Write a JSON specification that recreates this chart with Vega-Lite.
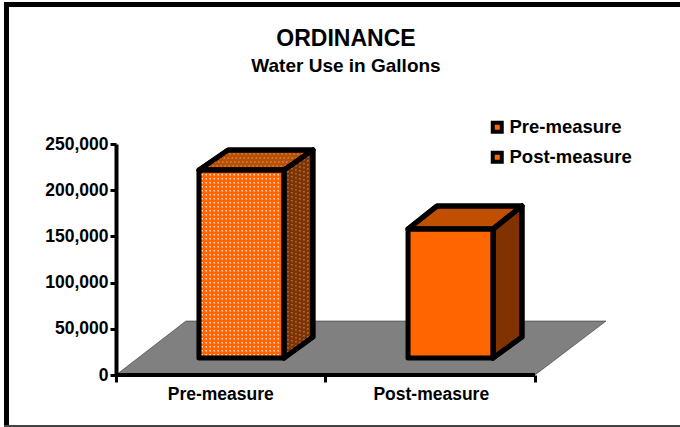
{
"$schema":"https://vega.github.io/schema/vega-lite/v6.json",
"width":490,"height":231,
"autosize":{"type":"none"},
"padding":{"left":116,"top":144,"right":74,"bottom":52},
"background":"white",
"view":{"stroke":null},
"config":{"font":"Liberation Sans","view":{"stroke":null}},
"title":{"text":"ORDINANCE","subtitle":"Water Use in Gallons","anchor":"middle","frame":"group","dx":-15,"offset":-76,"font":"Liberation Sans","fontSize":23,"fontWeight":"bold","color":"black","subtitleFont":"Liberation Sans","subtitleFontSize":19,"subtitleFontWeight":"bold","subtitleColor":"black","subtitlePadding":6},
"datasets":{
"floor":[{"x":0,"y":0,"y2":0},{"x":0.334,"y":58400,"y2":0},{"x":2,"y":58400,"y2":0},{"x":2.339,"y":58400,"y2":58400}],
"faces":[
{"face":"Pre top","x":0.396,"y":221900,"y2":221900},{"face":"Pre top","x":0.535,"y":243500,"y2":221900},{"face":"Pre top","x":0.802,"y":243500,"y2":221900},{"face":"Pre top","x":0.940,"y":243500,"y2":243500},
{"face":"Pre side","x":0.802,"y":221900,"y2":18400},{"face":"Pre side","x":0.940,"y":243500,"y2":41100},
{"face":"Post top","x":1.394,"y":158000,"y2":158000},{"face":"Post top","x":1.532,"y":182900,"y2":158000},{"face":"Post top","x":1.800,"y":182900,"y2":158000},{"face":"Post top","x":1.938,"y":182900,"y2":182900},
{"face":"Post side","x":1.800,"y":158000,"y2":18400},{"face":"Post side","x":1.938,"y":182900,"y2":41100}],
"bars":[{"series":"Pre-measure","x":0.396,"x2":0.802,"top":221900,"base":18400},{"series":"Post-measure","x":1.394,"x2":1.800,"top":158000,"base":18400}],
"sideDots":[{"x":0.821,"y":225100,"y2":21650},{"x":0.840,"y":228400,"y2":24900},{"x":0.859,"y":231600,"y2":28100},{"x":0.878,"y":234800,"y2":31400},{"x":0.897,"y":238100,"y2":34600},{"x":0.916,"y":241300,"y2":37900}],
"topDots":[{"x":0.502,"x2":0.907,"y":239200},{"x":0.475,"x2":0.881,"y":234800},{"x":0.449,"x2":0.854,"y":230500},{"x":0.422,"x2":0.828,"y":226200}],
"labels":[{"x":0.5,"y":-21500,"label":"Pre-measure"},{"x":1.505,"y":-21500,"label":"Post-measure"}],
"frameThick":[{"x":-0.5227,"x2":-0.5227,"y":403100,"y2":-56000},{"x":-0.5347,"x2":2.7085,"y":400970,"y2":400970}],
"frameThin":[{"x":-0.5347,"x2":2.7085,"y":-55200,"y2":-55200}]
},
"layer":[
{"data":{"name":"frameThick"},"mark":{"type":"rule","color":"black","strokeWidth":5},
 "encoding":{"x":{"field":"x","type":"quantitative","scale":{"domain":[0,2.339],"nice":false,"zero":false},"axis":{"values":[0,1,2],"labels":false,"title":null,"grid":false,"domain":false,"tickColor":"black","tickWidth":3,"tickSize":7}},
 "x2":{"field":"x2"},
 "y":{"field":"y","type":"quantitative","scale":{"domain":[0,250000],"nice":false},"axis":{"values":[0,50000,100000,150000,200000,250000],"format":",d","title":null,"grid":false,"domain":true,"domainColor":"black","domainWidth":4,"tickColor":"black","tickWidth":3,"tickSize":6,"labelPadding":2,"labelFont":"Liberation Sans","labelFontSize":17.5,"labelFontWeight":"bold","labelColor":"black"}},
 "y2":{"field":"y2"}}},
{"data":{"name":"frameThin"},"mark":{"type":"rule","color":"#444444","strokeWidth":2},
 "encoding":{"x":{"field":"x","type":"quantitative"},"x2":{"field":"x2"},"y":{"field":"y","type":"quantitative"},"y2":{"field":"y2"}}},
{"data":{"name":"floor"},"mark":{"type":"area","color":"#808080","stroke":"#333333","strokeWidth":0.6},
 "encoding":{"x":{"field":"x","type":"quantitative"},"y":{"field":"y","type":"quantitative"},"y2":{"field":"y2"}}},
{"data":{"values":[{"x":0,"x2":2,"y":0}]},"mark":{"type":"rule","color":"black","strokeWidth":4},
 "encoding":{"x":{"field":"x","type":"quantitative"},"x2":{"field":"x2"},"y":{"field":"y","type":"quantitative"}}},
{"data":{"name":"faces"},"mark":{"type":"area","stroke":"black","strokeWidth":5,"strokeJoin":"round"},
 "encoding":{"x":{"field":"x","type":"quantitative"},"y":{"field":"y","type":"quantitative"},"y2":{"field":"y2"},"detail":{"field":"face"},
 "fill":{"field":"face","type":"nominal","legend":null,"scale":{"domain":["Pre top","Pre side","Post top","Post side"],"range":["#b85000","#7f3300","#c05000","#803300"]}}}},
{"data":{"name":"sideDots"},"mark":{"type":"rule","color":"white","opacity":0.3,"strokeWidth":1.6,"strokeDash":[1.6,2.4]},
 "encoding":{"x":{"field":"x","type":"quantitative"},"y":{"field":"y","type":"quantitative"},"y2":{"field":"y2"}}},
{"data":{"name":"topDots"},"mark":{"type":"rule","color":"white","opacity":0.3,"strokeWidth":1.6,"strokeDash":[1.6,2.4]},
 "encoding":{"x":{"field":"x","type":"quantitative"},"x2":{"field":"x2"},"y":{"field":"y","type":"quantitative"}}},
{"data":{"name":"bars"},"mark":{"type":"rect"},
 "encoding":{"x":{"field":"x","type":"quantitative"},"x2":{"field":"x2"},"y":{"field":"top","type":"quantitative"},"y2":{"field":"base"},
 "color":{"field":"series","type":"nominal","scale":{"domain":["Pre-measure","Post-measure"],"range":["#ff6600","#ff6600"]},
 "legend":{"title":null,"orient":"none","legendX":372,"legendY":-26,"symbolType":"square","symbolSize":81,"symbolStrokeColor":"black","symbolStrokeWidth":4,"labelFont":"Liberation Sans","labelFontSize":18.5,"labelFontWeight":"bold","labelColor":"black","labelOffset":3,"rowPadding":4}}}},
{"data":{"values":[{"x":0.599,"y":221900,"y2":18400}]},"mark":{"type":"rule","color":"white","strokeWidth":82,"strokeDash":[1.5,2.5],"opacity":0.8},
 "encoding":{"x":{"field":"x","type":"quantitative"},"y":{"field":"y","type":"quantitative"},"y2":{"field":"y2"}}},
{"data":{"values":[{"x":0.396,"x2":0.802,"y":120150}]},"mark":{"type":"rule","color":"#ff6600","strokeWidth":186,"strokeDash":[2.5,1.5]},
 "encoding":{"x":{"field":"x","type":"quantitative"},"x2":{"field":"x2"},"y":{"field":"y","type":"quantitative"}}},
{"data":{"name":"bars"},"mark":{"type":"rect","fill":"transparent","stroke":"black","strokeWidth":5,"strokeJoin":"round"},
 "encoding":{"x":{"field":"x","type":"quantitative"},"x2":{"field":"x2"},"y":{"field":"top","type":"quantitative"},"y2":{"field":"base"}}},
{"data":{"name":"faces"},"mark":{"type":"area","fill":"transparent","stroke":"black","strokeWidth":5,"strokeJoin":"round"},
 "encoding":{"x":{"field":"x","type":"quantitative"},"y":{"field":"y","type":"quantitative"},"y2":{"field":"y2"},"detail":{"field":"face"}}},
{"data":{"name":"labels"},"mark":{"type":"text","font":"Liberation Sans","fontSize":17.5,"fontWeight":"bold","color":"black","baseline":"middle"},
 "encoding":{"x":{"field":"x","type":"quantitative"},"y":{"field":"y","type":"quantitative"},"text":{"field":"label"}}}
],
"resolve":{"scale":{"fill":"independent"}}
}
